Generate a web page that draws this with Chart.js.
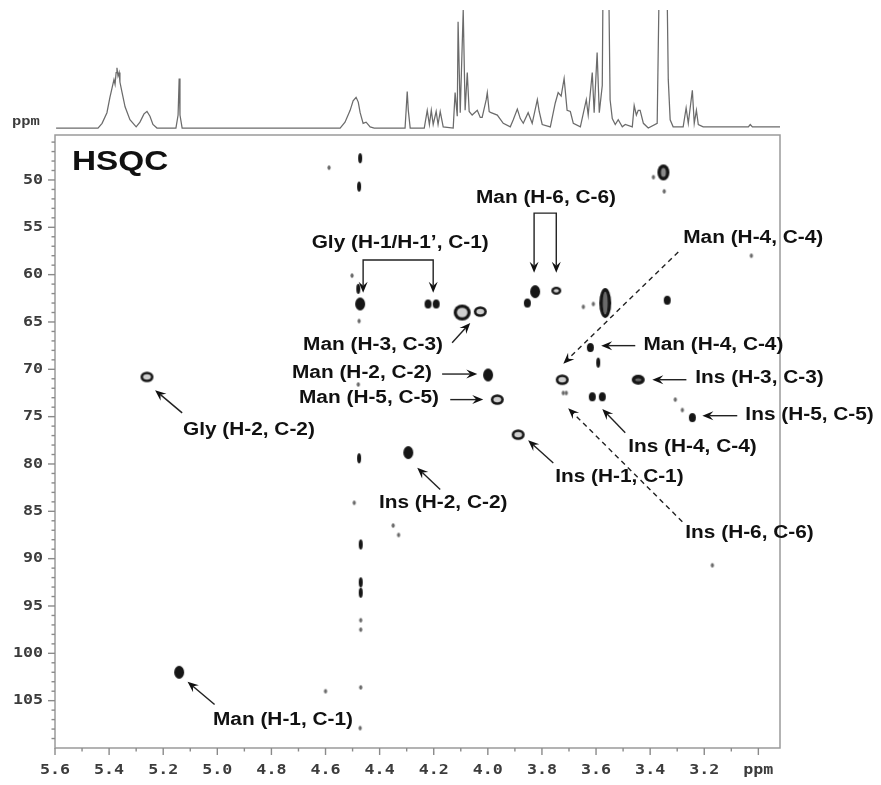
<!DOCTYPE html>
<html>
<head>
<meta charset="utf-8">
<title>HSQC</title>
<script src="https://cdn.jsdelivr.net/npm/chart.js@4.4.1/dist/chart.umd.min.js"></script>
<style>
  html, body { margin: 0; padding: 0; background: #fff; }
  #wrap { width: 881px; height: 785px; position: relative; }
</style>
</head>
<body>
<div id="wrap"><canvas id="hsqc"></canvas></div>
<script>
// 1H projection trace (ppm, relative intensity)
const specH = [5.596, 5.441, 5.426, 5.408, 5.397, 5.389, 5.382, 5.378, 5.374, 5.371, 5.367, 5.363, 5.360, 5.352, 5.341, 5.323, 5.300, 5.286, 5.271, 5.260, 5.249, 5.238, 5.223,
  5.153, 5.145, 5.141, 5.138, 5.130,
  4.546, 4.528, 4.509, 4.498, 4.487, 4.479, 4.472, 4.461, 4.450, 4.435, 4.420,
  4.306, 4.302, 4.298, 4.294, 4.287,
  4.235, 4.224, 4.216, 4.209, 4.202, 4.191, 4.184, 4.176, 4.165,
  4.128, 4.121, 4.113, 4.110, 4.102, 4.091, 4.084, 4.076, 4.069, 4.058, 4.039, 4.028, 4.021, 4.006, 4.002, 3.995, 3.988, 3.965, 3.943,
  3.917, 3.906, 3.891, 3.880, 3.869, 3.851, 3.836, 3.817, 3.810, 3.799, 3.769, 3.751, 3.740, 3.729, 3.718, 3.707, 3.695, 3.684,
  3.658, 3.636, 3.629, 3.614, 3.607, 3.596, 3.588, 3.577, 3.573, 3.564, 3.555, 3.548, 3.540, 3.529, 3.518, 3.503, 3.492, 3.466,
  3.459, 3.451, 3.444, 3.437, 3.425, 3.407, 3.374, 3.363, 3.351, 3.341, 3.333, 3.326, 3.315,
  3.278, 3.267, 3.259, 3.244, 3.237, 3.229, 3.222, 3.204, 3.037, 3.030, 3.022, 2.919];
const specI = [0, 0, 0.04, 0.13, 0.26, 0.34, 0.41, 0.37, 0.47, 0.51, 0.44, 0.47, 0.39, 0.30, 0.18, 0.07, 0.01, 0.05, 0.12, 0.14, 0.10, 0.03, 0,
  0, 0.11, 0.42, 0.11, 0,
  0, 0.05, 0.15, 0.23, 0.26, 0.22, 0.13, 0.04, 0.05, 0.01, 0,
  0, 0.15, 0.31, 0.15, 0,
  0, 0.15, 0.03, 0.15, 0.03, 0.14, 0.03, 0.14, 0.01,
  0, 0.30, 0.10, 0.90, 0.13, 1.00, 0.15, 0.47, 0.14, 0.11, 0.15, 0.09, 0.09, 0.24, 0.30, 0.14, 0.13, 0.11, 0.04,
  0.01, 0.07, 0.16, 0.08, 0.04, 0.13, 0.04, 0.24, 0.14, 0.03, 0.01, 0.21, 0.30, 0.27, 0.42, 0.15, 0.14, 0.04,
  0.01, 0.24, 0.11, 0.47, 0.13, 0.64, 0.13, 0.36, 1.6, 2.2, 1.6, 0.24, 0.08, 0.03, 0.07, 0.01, 0.03, 0.01,
  0.19, 0.11, 0.15, 0.15, 0.04, 0, 0.04, 1.8, 3.0, 1.8, 0.41, 0.07, 0.01,
  0.01, 0.17, 0.04, 0.32, 0.04, 0.15, 0.03, 0.01, 0.01, 0.03, 0.01, 0.01];

// cross peaks, grouped by how they look (1H ppm, 13C ppm)
const bigH = [3.351], bigC = [49.2];
const tallH = [3.566], tallC = [63.0];
const spotH = [3.999, 4.294, 3.825, 4.472, 5.141];
const spotC = [70.6, 78.8, 61.8, 63.1, 102.0];
const smallH = [3.621, 3.244, 4.221, 4.191, 3.614, 3.577, 3.337, 3.854];
const smallC = [67.7, 75.1, 63.1, 63.1, 72.9, 72.9, 62.7, 63.0];
const ringBigH = [4.095], ringBigC = [64.0];
const ringDarkH = [3.444], ringDarkC = [71.1];
const ringH = [3.965, 3.888, 3.725, 4.028, 5.26];
const ringC = [73.2, 76.9, 71.1, 63.9, 70.8];
const ringSmallH = [3.747], ringSmallC = [61.7];
const streakH = [4.472, 4.476, 4.479, 3.592, 4.476, 4.470, 4.470, 4.470];
const streakC = [47.7, 50.7, 61.5, 69.3, 79.4, 88.5, 92.5, 93.6];
const dotH = [4.502, 4.476, 4.587, 3.388, 3.348, 3.026, 3.610, 3.647, 3.721, 3.710, 3.307, 3.281, 3.170, 4.479, 4.494, 4.472, 4.470, 4.470, 4.350, 4.330, 4.600, 4.470];
const dotC = [60.1, 64.9, 48.7, 49.7, 51.2, 58.0, 63.1, 63.4, 72.5, 72.5, 73.2, 74.3, 90.7, 71.6, 84.1, 107.9, 96.5, 103.6, 86.5, 87.5, 104.0, 97.5];

// axis ticks
const hTicks = [5.6, 5.4, 5.2, 5.0, 4.8, 4.6, 4.4, 4.2, 4.0, 3.8, 3.6, 3.4, 3.2, 3.0];
const hMinor = [5.5, 5.3, 5.1, 4.9, 4.7, 4.5, 4.3, 4.1, 3.9, 3.7, 3.5, 3.3, 3.1];
const cTicks = [50, 55, 60, 65, 70, 75, 80, 85, 90, 95, 100, 105];
const cMinor = [];
for (let v = 46; v <= 109; v++) if (v % 5) cMinor.push(v);

// assignments: text anchor in ppm, arrows from/to in ppm
const labels = [
  { text: 'HSQC', h: 5.537, c: 48.1, size: 28 },
  { text: 'Gly (H-1/H-1\u2019, C-1)', h: 4.324, c: 56.65, align: 'center' },
  { text: 'Man (H-6, C-6)', h: 3.785, c: 51.9, align: 'center' },
  { text: 'Man (H-4, C-4)', h: 3.019, c: 56.2, align: 'center' },
  { text: 'Man (H-4, C-4)', h: 3.425, c: 67.4 },
  { text: 'Ins (H-3, C-3)', h: 3.233, c: 70.9 },
  { text: 'Ins (H-5, C-5)', h: 3.048, c: 74.8 },
  { text: 'Ins (H-4, C-4)', h: 3.481, c: 78.2 },
  { text: 'Ins (H-1, C-1)', h: 3.751, c: 81.4 },
  { text: 'Ins (H-6, C-6)', h: 3.270, c: 87.3 },
  { text: 'Man (H-3, C-3)', h: 4.683, c: 67.4 },
  { text: 'Man (H-2, C-2)', h: 4.724, c: 70.4 },
  { text: 'Man (H-5, C-5)', h: 4.698, c: 73.1 },
  { text: 'Ins (H-2, C-2)', h: 4.165, c: 84.1, align: 'center' },
  { text: 'Gly (H-2, C-2)', h: 5.127, c: 76.4 },
  { text: 'Man (H-1, C-1)', h: 5.016, c: 107.05 }
];
const arrows = [
  { from: [3.296, 57.6], to: [3.721, 69.4], dashed: true },
  { from: [3.455, 67.5], to: [3.581, 67.5] },
  { from: [3.266, 71.1], to: [3.392, 71.1] },
  { from: [3.078, 74.9], to: [3.207, 74.9] },
  { from: [3.492, 76.7], to: [3.577, 74.2] },
  { from: [3.758, 79.9], to: [3.851, 77.5] },
  { from: [3.281, 86.1], to: [3.703, 74.1], dashed: true },
  { from: [4.132, 67.2], to: [4.065, 65.1] },
  { from: [4.169, 70.5], to: [4.039, 70.5] },
  { from: [4.139, 73.2], to: [4.017, 73.2] },
  { from: [4.176, 82.7], to: [4.261, 80.4] },
  { from: [5.130, 74.6], to: [5.230, 72.2] },
  { from: [5.010, 105.4], to: [5.110, 103.0] }
];
const brackets = [
  { h1: 4.461, h2: 4.202, top: 58.45, tip: 61.9 },
  { h1: 3.829, h2: 3.747, top: 53.5, tip: 59.8 }
];

const STRETCH = 1.19;
const LABEL_FONT = '"Liberation Sans", Arial, sans-serif';
const TICK_FONT = 'bold 14px "DejaVu Sans Mono", monospace';

// small canvas sprites used as point styles for the contour spots
const blob = (w, h, hole, inner) => {
  const c = document.createElement('canvas');
  c.width = Math.ceil(w + 4);
  c.height = Math.ceil(h + 4);
  const g = c.getContext('2d');
  g.filter = 'blur(0.5px)';
  g.fillStyle = '#161616';
  g.beginPath();
  g.ellipse(c.width / 2, c.height / 2, w / 2, h / 2, 0, 0, Math.PI * 2);
  g.fill();
  if (hole) {
    g.fillStyle = inner || '#cfcfcf';
    g.beginPath();
    g.ellipse(c.width / 2, c.height / 2, Math.max(w / 2 - hole, 0.8), Math.max(h / 2 - hole, 0.8), 0, 0, Math.PI * 2);
    g.fill();
  }
  return c;
};
const dotStyle = () => {
  const c = document.createElement('canvas');
  c.width = 6; c.height = 7;
  const g = c.getContext('2d');
  g.filter = 'blur(0.4px)';
  g.fillStyle = '#6a6a6a';
  g.beginPath();
  g.ellipse(3, 3.5, 1.6, 2.2, 0, 0, Math.PI * 2);
  g.fill();
  return c;
};

const pts = (hs, cs) => hs.map((h, i) => ({ x: h, y: cs[i] }));
const peakSet = (hs, cs, style) => ({
  type: 'scatter',
  data: pts(hs, cs),
  xAxisID: 'x',
  yAxisID: 'y',
  pointStyle: style,
  pointRadius: 3,
  pointHoverRadius: 3
});

const line = (ctx, x1, y1, x2, y2) => {
  ctx.beginPath();
  ctx.moveTo(x1, y1);
  ctx.lineTo(x2, y2);
  ctx.stroke();
};

const wideText = (ctx, text, x, y, align, font) => {
  ctx.save();
  ctx.font = font;
  ctx.textBaseline = 'middle';
  ctx.textAlign = 'left';
  const w = ctx.measureText(text).width * STRETCH;
  const left = align === 'center' ? x - w / 2 : align === 'right' ? x - w : x;
  ctx.translate(left, y);
  ctx.scale(STRETCH, 1);
  ctx.fillText(text, 0, 0);
  ctx.restore();
};

const head = (ctx, x, y, ang) => {
  ctx.save();
  ctx.translate(x, y);
  ctx.rotate(ang);
  ctx.beginPath();
  ctx.moveTo(0, 0);
  ctx.lineTo(-11, -4.5);
  ctx.lineTo(-7, 0);
  ctx.lineTo(-11, 4.5);
  ctx.closePath();
  ctx.fill();
  ctx.restore();
};

const decor = {
  id: 'decor',
  beforeDatasetsDraw(chart) {
    const { ctx } = chart;
    const xs = chart.scales.x, ys = chart.scales.y;
    ctx.save();
    ctx.strokeStyle = '#9a9a9a';
    ctx.lineWidth = 1.5;
    ctx.strokeRect(xs.left, ys.top, xs.right - xs.left, ys.bottom - ys.top);
    ctx.restore();
  },
  afterDraw(chart) {
    const { ctx } = chart;
    const xs = chart.scales.x, ys = chart.scales.y, sp = chart.scales.ySpec;
    const X = v => xs.getPixelForValue(v), Y = v => ys.getPixelForValue(v);

    // tick marks
    ctx.save();
    ctx.strokeStyle = '#8a8a8a';
    ctx.lineWidth = 1.4;
    hTicks.forEach(v => line(ctx, X(v), ys.bottom, X(v), ys.bottom + 7));
    hMinor.forEach(v => line(ctx, X(v), ys.bottom, X(v), ys.bottom + 3.5));
    cTicks.forEach(v => line(ctx, xs.left - 7, Y(v), xs.left, Y(v)));
    cMinor.forEach(v => line(ctx, xs.left - 3.5, Y(v), xs.left, Y(v)));
    ctx.restore();

    // tick labels
    ctx.save();
    ctx.fillStyle = '#3c3c3c';
    hTicks.forEach(v => wideText(ctx, v === 3.0 ? 'ppm' : v.toFixed(1), X(v), ys.bottom + 22, 'center', TICK_FONT));
    cTicks.forEach(v => wideText(ctx, String(v), xs.left - 12, Y(v), 'right', TICK_FONT));
    wideText(ctx, 'ppm', 12, sp.getPixelForValue(0) - 6, 'left', 'bold 13px "Liberation Mono", monospace');
    ctx.restore();

    // assignments
    ctx.save();
    ctx.fillStyle = '#111';
    ctx.strokeStyle = '#222';
    ctx.lineWidth = 1.4;
    labels.forEach(l => {
      wideText(ctx, l.text, X(l.h), Y(l.c), l.align || 'left', 'bold ' + (l.size || 17.5) + 'px ' + LABEL_FONT);
    });
    arrows.forEach(a => {
      const x1 = X(a.from[0]), y1 = Y(a.from[1]), x2 = X(a.to[0]), y2 = Y(a.to[1]);
      const ang = Math.atan2(y2 - y1, x2 - x1);
      ctx.setLineDash(a.dashed ? [5, 4] : []);
      line(ctx, x1, y1, x2 - Math.cos(ang) * 7, y2 - Math.sin(ang) * 7);
      ctx.setLineDash([]);
      head(ctx, x2, y2, ang);
    });
    brackets.forEach(b => {
      const xa = X(b.h1), xb = X(b.h2), yt = Y(b.top), yp = Y(b.tip);
      ctx.beginPath();
      ctx.moveTo(xa, yp - 7);
      ctx.lineTo(xa, yt);
      ctx.lineTo(xb, yt);
      ctx.lineTo(xb, yp - 7);
      ctx.stroke();
      head(ctx, xa, yp, Math.PI / 2);
      head(ctx, xb, yp, Math.PI / 2);
    });
    ctx.restore();
  }
};

const hiddenAxis = {
  ticks: { display: false },
  grid: { display: false },
  border: { display: false }
};

new Chart(document.getElementById('hsqc'), {
  data: {
    datasets: [
      {
        type: 'line',
        data: pts(specH, specI),
        xAxisID: 'x',
        yAxisID: 'ySpec',
        borderColor: '#6b6b6b',
        borderWidth: 1.25,
        pointRadius: 0,
        tension: 0
      },
      peakSet(dotH, dotC, dotStyle()),
      peakSet(streakH, streakC, blob(4, 10)),
      peakSet(smallH, smallC, blob(7, 9)),
      peakSet(spotH, spotC, blob(10, 13)),
      peakSet(ringH, ringC, blob(13, 10.5, 2.6)),
      peakSet(ringSmallH, ringSmallC, blob(10, 8, 2.3)),
      peakSet(ringBigH, ringBigC, blob(17, 16, 3.2)),
      peakSet(ringDarkH, ringDarkC, blob(13, 10, 3.5, '#6a6a6a')),
      peakSet(bigH, bigC, blob(12, 16, 3.5, '#8a8a8a')),
      peakSet(tallH, tallC, blob(12, 30, 3.5, '#6a6a6a'))
    ]
  },
  options: {
    responsive: true,
    maintainAspectRatio: false,
    animation: false,
    layout: { padding: { top: 10, right: 101, bottom: 0, left: 0 } },
    plugins: { legend: { display: false }, tooltip: { enabled: false } },
    scales: {
      x: {
        type: 'linear',
        reverse: true,
        min: 2.92,
        max: 5.6,
        position: 'bottom',
        afterFit: s => { s.height = 37; },
        ...hiddenAxis
      },
      y: {
        type: 'linear',
        reverse: true,
        min: 45.25,
        max: 110,
        position: 'left',
        stack: 'ppm',
        stackWeight: 613,
        afterFit: s => { s.width = 55; },
        ...hiddenAxis
      },
      ySpec: {
        type: 'linear',
        min: -0.059,
        max: 1.0,
        position: 'left',
        stack: 'ppm',
        stackWeight: 125,
        afterFit: s => { s.width = 55; },
        ...hiddenAxis
      }
    }
  },
  plugins: [decor]
});
</script>
</body>
</html>
